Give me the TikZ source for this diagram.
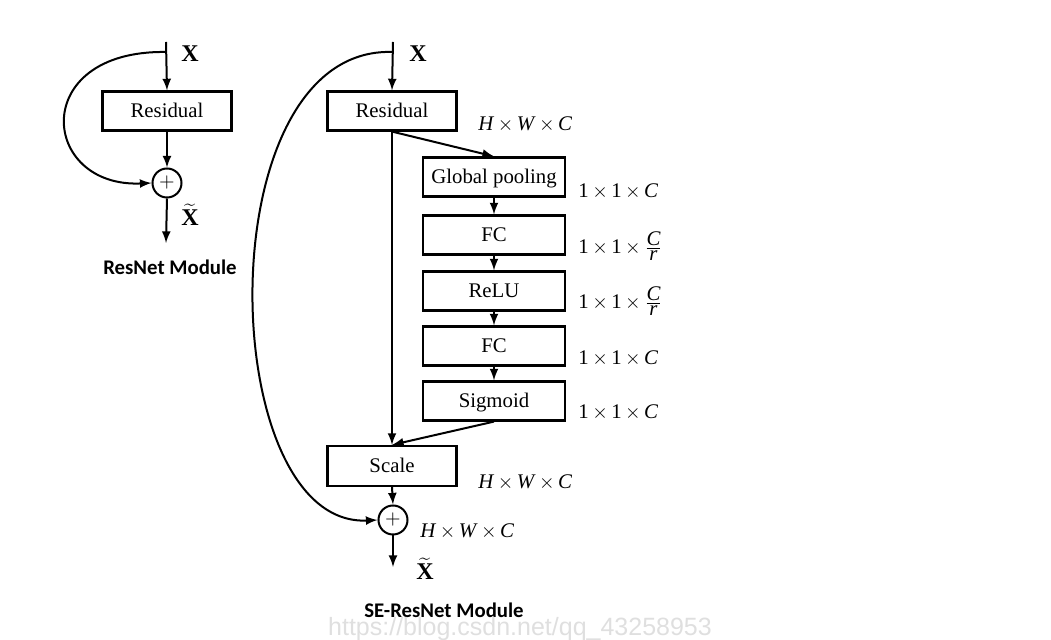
\documentclass[tikz,border=0pt]{standalone}
\usepackage{fontspec}
\setmainfont{Liberation Serif}
\newfontfamily\capfont{Carlito}
\newfontfamily\markfont{Liberation Sans}
\usepackage{tikz}
\usetikzlibrary{shapes,arrows}
\usetikzlibrary{positioning}

\begin{document}
\begin{tikzpicture}[x=0.5pt,y=-0.5pt,>=latex,
  every node/.style={font=\fontsize{10.4}{12}\selectfont},
  block/.style={draw,line width=1.1pt,minimum width=64.5pt,minimum height=19.5pt,inner sep=0pt,
    text height=0.75em,text depth=0.1em},
  sumnode/.style={draw,circle,line width=1pt,minimum size=14.5pt,inner sep=0pt},
  dim/.style={anchor=west,inner sep=0pt},
  flow/.style={->,line width=1pt}]

  \useasboundingbox (0,0) rectangle (1051,640);

  % ResNet module
  \coordinate (inL) at (166,42);
  \coordinate (splitL) at (166,52);
  \coordinate (outL) at (166,243);
  \node[block] (resL) at (167,111) {Residual};
  \node[sumnode] (sumL) at (167,183) {$+$};
  \node[inner sep=0pt] (xL) at (190,54) {\fontsize{12}{14}\selectfont\textbf{X}};
  \node[inner sep=0pt] (xtL) at (190,215) {\fontsize{12}{14}\selectfont$\widetilde{\textbf{X}}$};

  \draw[flow] (inL) -- (resL.north);
  \draw[flow] (resL.south) -- (sumL.north);
  \draw[flow] (sumL.south) -- (outL);
  \draw[flow] (splitL) .. controls (28,50) and (40,188) .. (sumL.west);

  \node (capL) at (170,267) {\capfont\bfseries ResNet Module};

  % SE-ResNet module
  \coordinate (inR) at (393,42);
  \coordinate (splitR) at (393,52);
  \coordinate (outR) at (393,567);
  \node[block] (resR) at (392,111) {Residual};
  \node[block,minimum width=71pt] (gp) at (494,177) {Global pooling};
  \node[block,minimum width=71pt] (fcA) at (494,235) {FC};
  \node[block,minimum width=71pt] (relu) at (494,291) {ReLU};
  \node[block,minimum width=71pt] (fcB) at (494,346) {FC};
  \node[block,minimum width=71pt] (sig) at (494,401) {Sigmoid};
  \node[block,minimum height=20pt] (scale) at (392,466) {Scale};
  \node[sumnode] (sumR) at (393,520) {$+$};
  \node[inner sep=0pt] (xR) at (418,54) {\fontsize{12}{14}\selectfont\textbf{X}};
  \node[inner sep=0pt] (xtR) at (425,569) {\fontsize{12}{14}\selectfont$\widetilde{\textbf{X}}$};

  \draw[flow] (inR) -- (resR.north);
  \draw[flow] (resR.south) -- (gp.north);
  \draw[flow] (gp) -- (fcA);
  \draw[flow] (fcA) -- (relu);
  \draw[flow] (relu) -- (fcB);
  \draw[flow] (fcB) -- (sig);
  \draw[flow] (resR.south) -- (scale.north);
  \draw[flow] (sig.south) -- (scale.north);
  \draw[flow] (scale.south) -- (sumR.north);
  \draw[flow] (sumR.south) -- (outR);
  \draw[flow] (splitR) .. controls (205,45) and (215,528) .. (sumR.west);

  % sizes
  \node[dim] (dRes) at (478,124) {\textit{H}\,$\times$\,\textit{W}\,$\times$\,\textit{C}};
  \node[dim] (dGp) at (578,191) {1\,$\times$\,1\,$\times$\,\textit{C}};
  \node[dim] (dFcA) at (578,246) {1\,$\times$\,1\,$\times$\,$\frac{\textit{C}}{\textit{r}}$};
  \node[dim] (dRelu) at (578,301) {1\,$\times$\,1\,$\times$\,$\frac{\textit{C}}{\textit{r}}$};
  \node[dim] (dFcB) at (578,358) {1\,$\times$\,1\,$\times$\,\textit{C}};
  \node[dim] (dSig) at (578,412) {1\,$\times$\,1\,$\times$\,\textit{C}};
  \node[dim] (dScale) at (478,482) {\textit{H}\,$\times$\,\textit{W}\,$\times$\,\textit{C}};
  \node[dim] (dSum) at (420,531) {\textit{H}\,$\times$\,\textit{W}\,$\times$\,\textit{C}};

  \node[inner sep=0pt] (capR) at (444,610) {\capfont\bfseries SE-ResNet Module};
  \node[inner sep=0pt,text=gray!25] (mark) at (520,629) {\markfont\fontsize{12.5}{14}\selectfont https://blog.csdn.net/qq\_43258953};
\end{tikzpicture}
\end{document}
